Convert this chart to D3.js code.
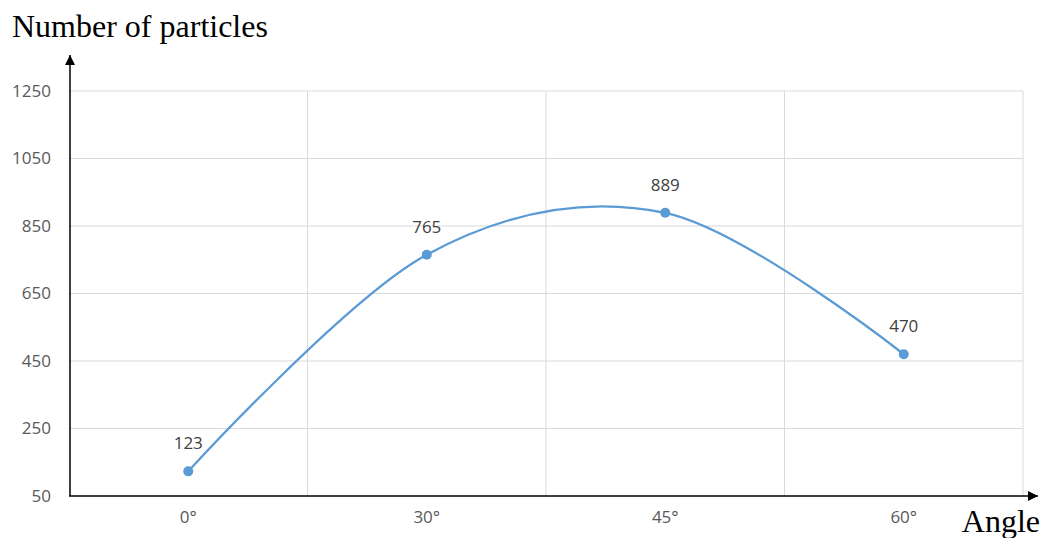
<!DOCTYPE html>
<html>
<head>
<meta charset="utf-8">
<script src="https://cdn.jsdelivr.net/npm/d3@7"></script>
<style>
  html, body { margin: 0; padding: 0; background: #fff; }
  svg { display: block; }
</style>
</head>
<body>
<svg id="chart" width="1042" height="538"></svg>
<script>
// Particle counts measured at each scattering angle
const angles = ["0°", "30°", "45°", "60°"];
const particles = [123, 765, 889, 470];
const yTicks = [50, 250, 450, 650, 850, 1050, 1250];

const svg = d3.select("#chart");
const plotLeft = 69, plotRight = 1023, plotTop = 91, plotBottom = 496;
const labelFont = "'Open Sans', 'Liberation Sans', sans-serif";

const x = d3.scaleBand().domain(angles).range([plotLeft, plotRight]).paddingInner(0).paddingOuter(0);
const y = d3.scaleLinear().domain([50, 1250]).range([plotBottom, plotTop]);

// Horizontal gridlines
svg.append("g")
  .selectAll("line")
  .data(yTicks.slice(1))
  .join("line")
  .attr("x1", plotLeft).attr("x2", plotRight)
  .attr("y1", d => y(d)).attr("y2", d => y(d))
  .attr("stroke", "#d9d9d9").attr("stroke-width", 1);

// Vertical gridlines at band boundaries
svg.append("g")
  .selectAll("line")
  .data(angles)
  .join("line")
  .attr("x1", d => x(d) + x.bandwidth()).attr("x2", d => x(d) + x.bandwidth())
  .attr("y1", plotTop).attr("y2", plotBottom)
  .attr("stroke", "#d9d9d9").attr("stroke-width", 1);

// Y tick labels
const yAxis = d3.axisLeft(y).tickValues(yTicks).tickFormat(d3.format("d")).tickSize(0).tickPadding(18);
const gy = svg.append("g").attr("transform", `translate(${plotLeft},0)`).call(yAxis);
gy.select(".domain").remove();
gy.selectAll("text")
  .attr("fill", "#595959")
  .style("font-family", labelFont)
  .style("font-size", "17px");

// X tick labels
const xAxis = d3.axisBottom(x).tickSize(0).tickPadding(15);
const gx = svg.append("g").attr("transform", `translate(0,${plotBottom})`).call(xAxis);
gx.select(".domain").remove();
gx.selectAll("text")
  .attr("fill", "#595959")
  .style("font-family", labelFont)
  .style("font-size", "17px");

// Arrowhead marker
svg.append("defs").append("marker")
  .attr("id", "arrow")
  .attr("viewBox", "0 0 10 10")
  .attr("refX", 10).attr("refY", 5)
  .attr("markerWidth", 10).attr("markerHeight", 10)
  .attr("markerUnits", "userSpaceOnUse")
  .attr("orient", "auto")
  .append("path")
  .attr("d", "M0,0 L10,5 L0,10 Z")
  .attr("fill", "#000");

// Axes with arrows
svg.append("line")
  .attr("x1", 70).attr("y1", plotBottom).attr("x2", 70).attr("y2", 55)
  .attr("stroke", "#000").attr("stroke-width", 1.5)
  .attr("marker-end", "url(#arrow)");
svg.append("line")
  .attr("x1", 69).attr("y1", plotBottom).attr("x2", 1038).attr("y2", plotBottom)
  .attr("stroke", "#000").attr("stroke-width", 1.5)
  .attr("marker-end", "url(#arrow)");

// Axis titles
svg.append("text")
  .attr("x", 12).attr("y", 37)
  .style("font-family", "'Liberation Serif', 'Times New Roman', serif")
  .style("font-size", "32px")
  .attr("fill", "#000")
  .text("Number of particles");
svg.append("text")
  .attr("x", 1040).attr("y", 532)
  .attr("text-anchor", "end")
  .style("font-family", "'Liberation Serif', 'Times New Roman', serif")
  .style("font-size", "32px")
  .attr("fill", "#000")
  .text("Angle");

// Smoothed series line
const cx = d => x(d) + x.bandwidth() / 2;
const line = d3.line()
  .x((d, i) => cx(angles[i]))
  .y(d => y(d))
  .curve(d3.curveCardinal.tension(0));

svg.append("path")
  .datum(particles)
  .attr("d", line)
  .attr("fill", "none")
  .attr("stroke", "#5b9bd5")
  .attr("stroke-width", 2.25);

// Markers
svg.append("g")
  .selectAll("circle")
  .data(particles)
  .join("circle")
  .attr("cx", (d, i) => cx(angles[i]))
  .attr("cy", d => y(d))
  .attr("r", 5)
  .attr("fill", "#5b9bd5");

// Value labels
svg.append("g")
  .selectAll("text")
  .data(particles)
  .join("text")
  .attr("x", (d, i) => cx(angles[i]))
  .attr("y", d => y(d) - 22)
  .attr("text-anchor", "middle")
  .attr("fill", "#404040")
  .style("font-family", labelFont)
  .style("font-size", "17px")
  .text(d => d);
</script>
</body>
</html>
